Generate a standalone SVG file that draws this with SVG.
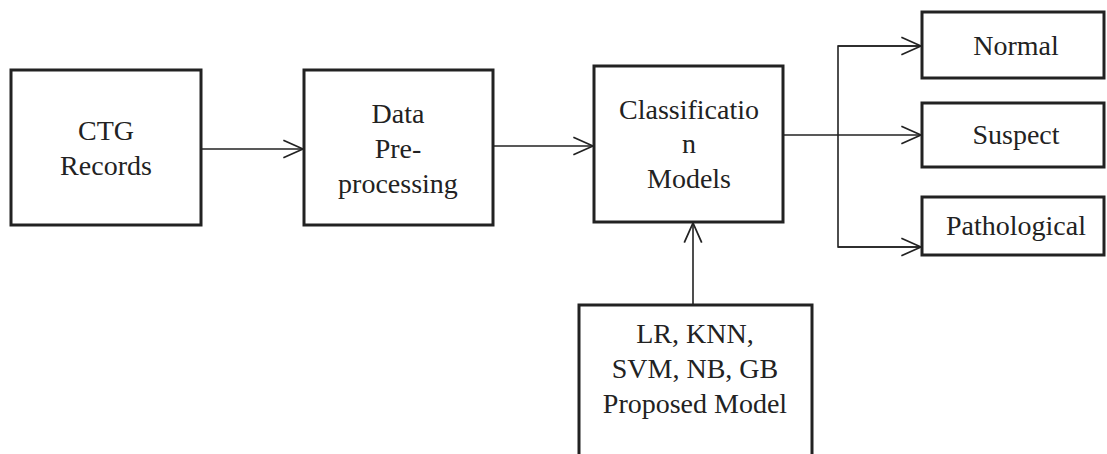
<svg xmlns="http://www.w3.org/2000/svg" width="1107" height="454" viewBox="0 0 1107 454">
<style>
.box{fill:#fff;stroke:#222;stroke-width:3}
.t{font-family:"Liberation Serif","Times New Roman",serif;font-size:28px;fill:#222;text-anchor:middle}
.c{fill:none;stroke:#222;stroke-width:1.6}
</style>
<defs>
<marker id="ah" markerUnits="userSpaceOnUse" markerWidth="24" markerHeight="24" viewBox="-20 -10 22 20" refX="0" refY="0" orient="auto">
<path d="M-18,-8 L0,0 L-18,8" fill="none" stroke="#222" stroke-width="1.6"/>
</marker>
</defs>
<rect width="1107" height="454" fill="#fff"/>
<g id="connectors">
<line class="c" x1="201" y1="149" x2="303" y2="149" marker-end="url(#ah)"/>
<line class="c" x1="493" y1="146" x2="593" y2="146" marker-end="url(#ah)"/>
<line class="c" x1="783" y1="135" x2="921" y2="135" marker-end="url(#ah)"/>
<polyline class="c" points="921,46 838,46 838,247 921,247"/>
<line class="c" x1="838" y1="46" x2="921" y2="46" marker-end="url(#ah)"/>
<line class="c" x1="838" y1="247" x2="921" y2="247" marker-end="url(#ah)"/>
<line class="c" x1="693" y1="305" x2="693" y2="223" marker-end="url(#ah)"/>
</g>
<g id="ctg">
<rect class="box" x="11" y="70" width="190" height="155"/>
<text class="t" x="106" y="140">CTG</text>
<text class="t" x="106" y="175">Records</text>
</g>
<g id="preprocessing">
<rect class="box" x="304" y="70" width="189" height="155"/>
<text class="t" x="398" y="123">Data</text>
<text class="t" x="398" y="158">Pre-</text>
<text class="t" x="398" y="193">processing</text>
</g>
<g id="classification">
<rect class="box" x="594" y="66" width="189" height="156"/>
<text class="t" x="689" y="119">Classificatio</text>
<text class="t" x="689" y="153">n</text>
<text class="t" x="689" y="188">Models</text>
</g>
<g id="normal">
<rect class="box" x="922" y="12" width="182" height="66"/>
<text class="t" x="1016" y="55">Normal</text>
</g>
<g id="suspect">
<rect class="box" x="922" y="103" width="182" height="64"/>
<text class="t" x="1016" y="144">Suspect</text>
</g>
<g id="pathological">
<rect class="box" x="922" y="197" width="182" height="58"/>
<text class="t" x="1016" y="235">Pathological</text>
</g>
<g id="models">
<rect class="box" x="579" y="305" width="233" height="160"/>
<text class="t" x="695" y="343">LR, KNN,</text>
<text class="t" x="695" y="378">SVM, NB, GB</text>
<text class="t" x="695" y="413">Proposed Model</text>
</g>
</svg>
